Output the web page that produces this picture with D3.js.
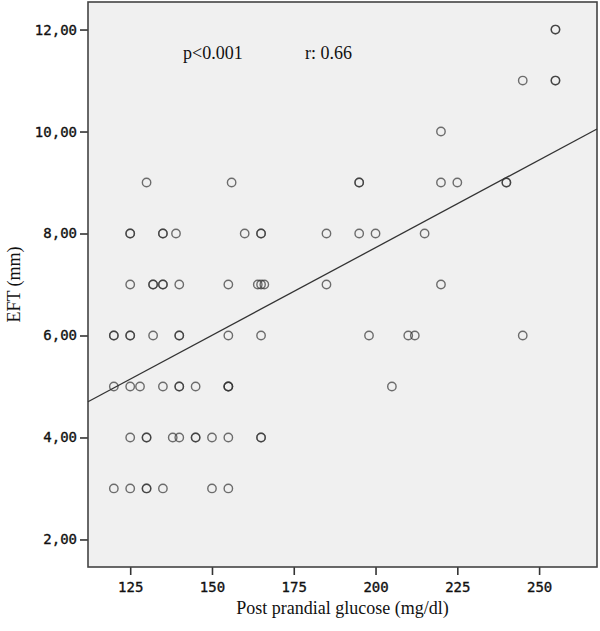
<!DOCTYPE html>
<html>
<head>
<meta charset="utf-8">
<script src="https://cdn.jsdelivr.net/npm/d3@7"></script>
<style>
  html, body { margin: 0; padding: 0; background: #ffffff; }
  svg { display: block; }
</style>
</head>
<body>
<div class="chart"></div>
<script>
// glucose (mg/dl) and EFT (mm) for each patient
const glucose = [
  255, 255,
  245, 255, 255,
  220,
  130, 156, 195, 195, 220, 225, 240, 240,
  125, 125, 135, 135, 139, 160, 165, 165, 185, 195, 200, 215,
  125, 132, 132, 135, 135, 140, 155, 164, 165, 166, 185, 220,
  120, 120, 125, 125, 132, 140, 140, 155, 165, 198, 210, 212, 245,
  120, 125, 128, 135, 140, 140, 145, 155, 155, 155, 205,
  125, 130, 130, 138, 140, 145, 145, 150, 155, 165, 165,
  120, 125, 130, 130, 135, 150, 155
];
const eft = [
  12, 12,
  11, 11, 11,
  10,
  9, 9, 9, 9, 9, 9, 9, 9,
  8, 8, 8, 8, 8, 8, 8, 8, 8, 8, 8, 8,
  7, 7, 7, 7, 7, 7, 7, 7, 7, 7, 7, 7,
  6, 6, 6, 6, 6, 6, 6, 6, 6, 6, 6, 6, 6,
  5, 5, 5, 5, 5, 5, 5, 5, 5, 5, 5,
  4, 4, 4, 4, 4, 4, 4, 4, 4, 4, 4,
  3, 3, 3, 3, 3, 3, 3
];

// axis ranges and ticks
const xDomain = [112.1, 267.7];
const yDomain = [1.46, 12.54];
const xTicks = [125, 150, 175, 200, 225, 250];
const yTicks = [2, 4, 6, 8, 10, 12];

// fit line (linear regression drawn in the picture)
const fitX = [112.1, 267.7];
const fitY = [4.70, 10.05];

const stats = ['p<0.001', 'r: 0.66'];

const W = 600, H = 631;
const margin = { left: 88, top: 2, right: 3, bottom: 64 };

const svg = d3.select('.chart')
  .append('svg')
  .attr('width', W)
  .attr('height', H);

const x = d3.scaleLinear().domain(xDomain).range([margin.left, W - margin.right]);
const y = d3.scaleLinear().domain(yDomain).range([H - margin.bottom, margin.top]);

// plot background
svg.append('rect')
  .attr('x', x.range()[0])
  .attr('y', y.range()[1])
  .attr('width', x.range()[1] - x.range()[0])
  .attr('height', y.range()[0] - y.range()[1])
  .attr('fill', '#f0f0f0');

const fmt = (d) => d3.format('.2f')(d).replace('.', ',');

const xAxis = svg.append('g')
  .attr('transform', `translate(0,${y.range()[0]})`)
  .call(d3.axisBottom(x).tickValues(xTicks).tickSize(8).tickPadding(7).tickSizeOuter(0));

const yAxis = svg.append('g')
  .attr('transform', `translate(${x.range()[0]},0)`)
  .call(d3.axisLeft(y).tickValues(yTicks).tickFormat(fmt).tickSize(8).tickPadding(3).tickSizeOuter(0));

[xAxis, yAxis].forEach((g) => {
  g.select('.domain').remove();
  g.selectAll('.tick line').attr('stroke', '#333').attr('stroke-width', 1.6);
  g.selectAll('.tick text')
    .attr('fill', '#111')
    .attr('stroke', '#111')
    .attr('stroke-width', 0.35)
    .style('font-family', '"DejaVu Sans Mono", monospace')
    .style('font-size', '14px');
});

// frame
svg.append('rect')
  .attr('x', x.range()[0])
  .attr('y', y.range()[1])
  .attr('width', x.range()[1] - x.range()[0])
  .attr('height', y.range()[0] - y.range()[1])
  .attr('fill', 'none')
  .attr('stroke', '#444')
  .attr('stroke-width', 1.6);

// points
svg.append('g')
  .selectAll('circle')
  .data(d3.zip(glucose, eft))
  .join('circle')
  .attr('cx', (d) => x(d[0]))
  .attr('cy', (d) => y(d[1]))
  .attr('r', 4.2)
  .attr('fill', 'none')
  .attr('stroke', '#333')
  .attr('stroke-opacity', 0.7)
  .attr('stroke-width', 1.4);

// regression line
svg.append('path')
  .datum(d3.zip(fitX, fitY))
  .attr('d', d3.line().x((d) => x(d[0])).y((d) => y(d[1])))
  .attr('fill', 'none')
  .attr('stroke', '#333')
  .attr('stroke-width', 1.3);

// stats text
svg.append('g')
  .selectAll('text')
  .data(stats)
  .join('text')
  .attr('x', (d, i) => [183, 305][i])
  .attr('y', 59)
  .attr('fill', '#111')
  .style('font-family', '"Liberation Serif", serif')
  .style('font-size', '18px')
  .text((d) => d);

// axis titles
svg.append('text')
  .attr('x', (x.range()[0] + x.range()[1]) / 2)
  .attr('y', 614)
  .attr('text-anchor', 'middle')
  .attr('fill', '#111')
  .style('font-family', '"Liberation Serif", serif')
  .style('font-size', '18px')
  .text('Post prandial glucose (mg/dl)');

svg.append('text')
  .attr('transform', `translate(20,${(y.range()[0] + y.range()[1]) / 2}) rotate(-90)`)
  .attr('text-anchor', 'middle')
  .attr('fill', '#111')
  .style('font-family', '"Liberation Serif", serif')
  .style('font-size', '18px')
  .text('EFT (mm)');
</script>
</body>
</html>
